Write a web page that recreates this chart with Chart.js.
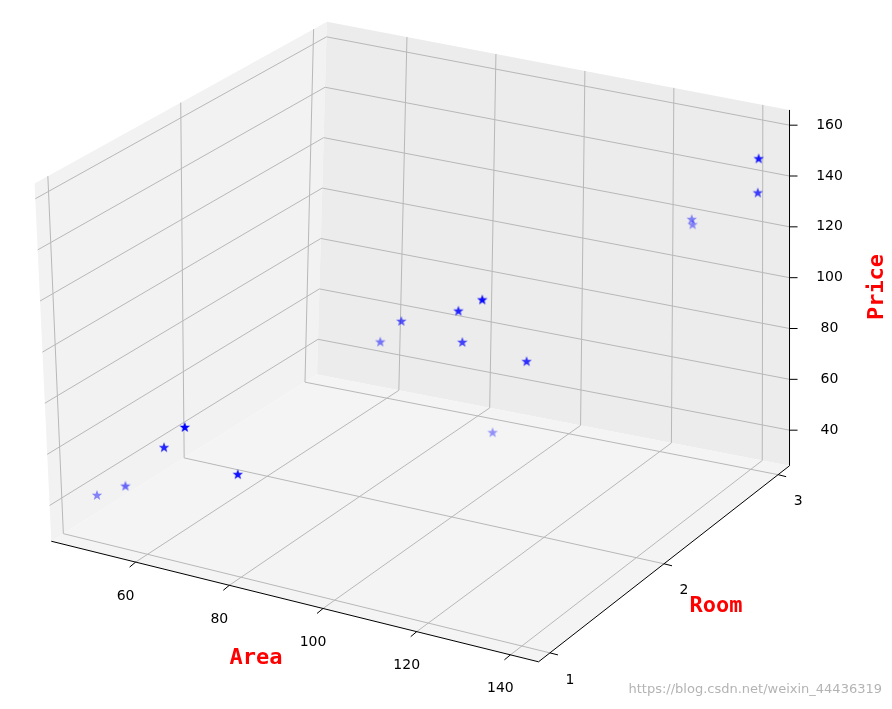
<!DOCTYPE html>
<html>
<head>
<meta charset="utf-8">
<script src="https://cdn.jsdelivr.net/npm/chart.js@4"></script>
<style>body{margin:0;background:#fff}</style>
</head>
<body>
<canvas id="c" width="892" height="709"></canvas>
<script>
// data
const area  = [49.6, 55.8, 64.4, 69, 80, 84.8, 89.4, 101.8, 102.6, 107, 116.5, 109, 126.8, 127, 141.7, 141.5];
const room  = [1, 1, 1, 1, 1, 2, 2, 2, 2, 2, 2, 2, 3, 3, 3, 3];
const price = [44.6, 51, 70, 80, 66.5, 89, 99, 108, 96, 114.5, 94, 63, 120, 118, 149, 135.5];
const areaTicks  = [60, 80, 100, 120, 140];
const roomTicks  = [1, 2, 3];
const priceTicks = [40, 60, 80, 100, 120, 140, 160];

// 3d box limits
const aMin = 42, aMax = 146, rMin = 0.9, rMax = 3.1, pMin = 26, pMax = 166;

// screen corners of the box: [area side][room side][price side]
const C = {
  '000': [45, 545],  '100': [540, 668], '110': [795, 468], '010': [315, 375],
  '001': [28, 180],  '101': [535, 306], '111': [795, 105], '011': [325, 15]
};
function norm(a, r, p) {
  return [(a - aMin) / (aMax - aMin), (r - rMin) / (rMax - rMin), (p - pMin) / (pMax - pMin)];
}
function proj(a, r, p) {
  const [s, u, t] = norm(a, r, p);
  let X = 0, Y = 0;
  for (const k in C) {
    const w = (k[0] === '1' ? s : 1 - s) * (k[1] === '1' ? u : 1 - u) * (k[2] === '1' ? t : 1 - t);
    X += w * C[k][0]; Y += w * C[k][1];
  }
  return [X, Y];
}
function depth(i) {
  const [s, u, t] = norm(area[i], room[i], price[i]);
  return u - 0.5 * s - t;
}

const pts = area.map((a, i) => { const q = proj(a, room[i], price[i]); return {x: q[0], y: q[1]}; });
const ds = area.map((_, i) => depth(i));
const dMin = Math.min(...ds), dMax = Math.max(...ds);
const alphas = ds.map(d => 1 - 0.6 * (d - dMin) / (dMax - dMin));

const starCache = {};
function star(alpha) {
  const k = alpha.toFixed(2);
  if (starCache[k]) return starCache[k];
  const c = document.createElement('canvas');
  c.width = 12; c.height = 12;
  const g = c.getContext('2d');
  g.fillStyle = 'rgba(0,0,255,' + k + ')';
  g.beginPath();
  for (let j = 0; j < 10; j++) {
    const rad = j % 2 ? 2.3 : 5.5, ang = -Math.PI/2 + j * Math.PI/5;
    g.lineTo(6 + rad*Math.cos(ang), 6.5 + rad*Math.sin(ang));
  }
  g.closePath(); g.fill();
  starCache[k] = c;
  return c;
}

const box3d = {
  id: 'box3d',
  beforeDatasetsDraw(chart) {
    const {ctx, scales: {x, y}} = chart;
    const P = (a, r, p) => { const q = proj(a, r, p); return [x.getPixelForValue(q[0]), y.getPixelForValue(q[1])]; };
    const poly = (arr, fill) => {
      ctx.beginPath(); arr.forEach((q, i) => i ? ctx.lineTo(q[0], q[1]) : ctx.moveTo(q[0], q[1]));
      ctx.closePath(); ctx.fillStyle = fill; ctx.fill();
    };
    const line = (q1, q2, col, w) => {
      ctx.beginPath(); ctx.moveTo(q1[0], q1[1]); ctx.lineTo(q2[0], q2[1]);
      ctx.strokeStyle = col; ctx.lineWidth = w; ctx.stroke();
    };
    ctx.save();
    // panes
    poly([P(aMin,rMin,pMin), P(aMin,rMax,pMin), P(aMin,rMax,pMax), P(aMin,rMin,pMax)], '#f2f2f2');
    poly([P(aMin,rMax,pMin), P(aMax,rMax,pMin), P(aMax,rMax,pMax), P(aMin,rMax,pMax)], '#ececec');
    poly([P(aMin,rMin,pMin), P(aMax,rMin,pMin), P(aMax,rMax,pMin), P(aMin,rMax,pMin)], '#f4f4f4');
    // grid
    const gc = '#b8b8b8';
    areaTicks.forEach(a => {
      line(P(a,rMin,pMin), P(a,rMax,pMin), gc, 1);
      line(P(a,rMax,pMin), P(a,rMax,pMax), gc, 1);
    });
    roomTicks.forEach(r => {
      line(P(aMin,r,pMin), P(aMax,r,pMin), gc, 1);
      line(P(aMin,r,pMin), P(aMin,r,pMax), gc, 1);
    });
    priceTicks.forEach(p => {
      line(P(aMin,rMin,p), P(aMin,rMax,p), gc, 1);
      line(P(aMin,rMax,p), P(aMax,rMax,p), gc, 1);
    });
    // axes
    line(P(aMin,rMin,pMin), P(aMax,rMin,pMin), '#000', 1);
    line(P(aMax,rMin,pMin), P(aMax,rMax,pMin), '#000', 1);
    line(P(aMax,rMax,pMin), P(aMax,rMax,pMax), '#000', 1);
    ctx.fillStyle = '#000'; ctx.font = '14px "DejaVu Sans"';
    ctx.textAlign = 'center'; ctx.textBaseline = 'middle';
    areaTicks.forEach(a => {
      const q = P(a,rMin,pMin);
      line(q, [q[0]-6, q[1]+5], '#000', 1);
      ctx.fillText(a, q[0]-10, q[1]+34);
    });
    roomTicks.forEach(r => {
      const q = P(aMax,r,pMin);
      line(q, [q[0]+8, q[1]+2], '#000', 1);
      ctx.fillText(r, q[0]+20, q[1]+27);
    });
    priceTicks.forEach(p => {
      const q = P(aMax,rMax,p);
      line(q, [q[0]+8, q[1]], '#000', 1);
      ctx.fillText(p, q[0]+40, q[1]);
    });
    ctx.fillStyle = '#ff0000'; ctx.font = 'bold 22px "DejaVu Sans Mono"';
    ctx.fillText('Area', 256, 658);
    ctx.fillText('Room', 716, 606);
    ctx.save(); ctx.translate(877, 287); ctx.rotate(-Math.PI/2); ctx.fillText('Price', 0, 0); ctx.restore();
    ctx.fillStyle = 'rgba(160,160,160,0.8)'; ctx.font = '13px "DejaVu Sans"'; ctx.textAlign = 'right';
    ctx.fillText('https://blog.csdn.net/weixin_44436319', 882, 690);
    ctx.restore();
  }
};

new Chart(document.getElementById('c'), {
  type: 'scatter',
  data: { datasets: [{ data: pts, pointStyle: c => star(alphas[c.dataIndex]), pointRadius: 6 }] },
  options: {
    responsive: false, animation: false,
    layout: { padding: 0 },
    plugins: { legend: { display: false }, tooltip: { enabled: false } },
    scales: {
      x: { type: 'linear', min: 0, max: 892, display: false },
      y: { type: 'linear', min: 0, max: 709, reverse: true, display: false }
    }
  },
  plugins: [box3d]
});
</script>
</body>
</html>
